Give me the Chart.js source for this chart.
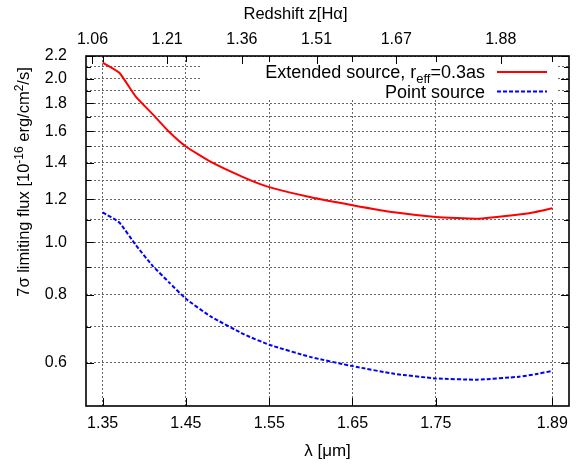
<!DOCTYPE html>
<html>
<head>
<meta charset="utf-8">
<script src="https://cdn.jsdelivr.net/npm/chart.js@4"></script>
<style>
  html, body { margin: 0; padding: 0; background: #fff; }
  #wrap { width: 578px; height: 465px; }
</style>
</head>
<body>
<div id="wrap"><canvas id="grafico" width="578" height="465"></canvas></div>
<script>
// wavelength in micron
const lambda = [1.35, 1.37, 1.39, 1.41, 1.43, 1.45, 1.48, 1.52, 1.55, 1.60, 1.65, 1.70, 1.75, 1.80, 1.85, 1.87, 1.89];
// 7 sigma limiting flux, 1e-16 erg/cm2/s
const extendedSource = [2.14, 2.05, 1.85, 1.72, 1.595, 1.50, 1.405, 1.315, 1.263, 1.21, 1.17, 1.135, 1.113, 1.105, 1.125, 1.137, 1.155];
const pointSource = [1.135, 1.087, 0.987, 0.905, 0.843, 0.787, 0.73, 0.677, 0.648, 0.615, 0.592, 0.573, 0.562, 0.559, 0.566, 0.572, 0.58];

const xTicks = [1.35, 1.45, 1.55, 1.65, 1.75, 1.89];
const zTicks = [1.06, 1.21, 1.36, 1.51, 1.67, 1.88];
const yGrid = [0.6, 0.7, 0.8, 0.9, 1.0, 1.1, 1.2, 1.3, 1.4, 1.5, 1.6, 1.7, 1.8, 1.9, 2.0, 2.1, 2.2];
const yLabels = [0.6, 0.8, 1.0, 1.2, 1.4, 1.6, 1.8, 2.0, 2.2];

const FONT = "'Liberation Sans', Arial, Helvetica, sans-serif";
const gridCor = "#666";

function ehLabel(v) {
  return yLabels.some((l) => Math.abs(l - v) < 1e-6);
}

// draws text pieces with super/subscripts, starting at x, baseline y
function textoComposto(ctx, partes, x, y, tam) {
  let px = x;
  partes.forEach((p) => {
    ctx.font = (p.s ? Math.round(tam * 0.72) : tam) + "px " + FONT;
    ctx.fillText(p.t, px, y + (p.s || 0));
    px += ctx.measureText(p.t).width;
  });
  return px;
}
function larguraComposto(ctx, partes, tam) {
  let w = 0;
  partes.forEach((p) => {
    ctx.font = (p.s ? Math.round(tam * 0.72) : tam) + "px " + FONT;
    w += ctx.measureText(p.t).width;
  });
  return w;
}

const molduraPlugin = {
  id: "moldura",
  beforeDatasetsDraw(chart) {
    const ctx = chart.ctx;
    // key box covers the grid
    ctx.save();
    ctx.fillStyle = "#fff";
    ctx.fillRect(200, chart.chartArea.top + 1, 357, 42);
    ctx.restore();
  },
  afterDraw(chart) {
    const ctx = chart.ctx;
    const a = chart.chartArea;
    const ys = chart.scales.y;
    const xs = chart.scales.x;
    const zs = chart.scales.x2;
    ctx.save();
    ctx.strokeStyle = "#000";
    ctx.lineWidth = 1;
    ctx.beginPath();
    yGrid.forEach((v) => {
      const py = Math.round(ys.getPixelForValue(v)) + 0.5;
      const len = ehLabel(v) ? 8 : 5;
      ctx.moveTo(a.left, py); ctx.lineTo(a.left + len, py);
      ctx.moveTo(a.right, py); ctx.lineTo(a.right - len, py);
    });
    xTicks.forEach((v) => {
      const px = Math.round(xs.getPixelForValue(v)) + 0.5;
      ctx.moveTo(px, a.bottom); ctx.lineTo(px, a.bottom - 8);
      ctx.moveTo(px, a.top); ctx.lineTo(px, a.top + 6);
    });
    zTicks.forEach((v) => {
      const px = Math.round(zs.getPixelForValue(v)) + 0.5;
      ctx.moveTo(px, a.top); ctx.lineTo(px, a.top + 8);
    });
    ctx.stroke();

    // frame
    ctx.lineWidth = 1.6;
    ctx.strokeRect(a.left, a.top, a.right - a.left, a.bottom - a.top);

    // top title
    ctx.fillStyle = "#000";
    ctx.textBaseline = "alphabetic";
    const tt = [{ t: "Redshift z[Hα]" }];
    textoComposto(ctx, tt, 295.5 - larguraComposto(ctx, tt, 16.5) / 2, 19, 16.5);

    // key
    const k1 = [{ t: "Extended source, r" }, { t: "eff", s: 5 }, { t: "=0.3as" }];
    textoComposto(ctx, k1, 485 - larguraComposto(ctx, k1, 18), 78, 18);
    const k2 = [{ t: "Point source" }];
    textoComposto(ctx, k2, 485 - larguraComposto(ctx, k2, 18), 98, 18);
    ctx.lineWidth = 2;
    ctx.strokeStyle = "rgb(255,0,0)";
    ctx.beginPath(); ctx.moveTo(497, 72); ctx.lineTo(547, 72); ctx.stroke();
    ctx.strokeStyle = "rgb(0,0,255)";
    ctx.setLineDash([4, 2]);
    ctx.beginPath(); ctx.moveTo(497, 91.5); ctx.lineTo(547, 91.5); ctx.stroke();
    ctx.setLineDash([]);

    // y title
    const t = [
      { t: "7σ limiting flux [10" }, { t: "-16", s: -6 },
      { t: " erg/cm" }, { t: "2", s: -6 }, { t: "/s]" },
    ];
    ctx.translate(29, 182);
    ctx.rotate(-Math.PI / 2);
    textoComposto(ctx, t, -larguraComposto(ctx, t, 16.5) / 2, 0, 16.5);
    ctx.restore();
  },
};

const grafico = document.getElementById("grafico");

new Chart(grafico, {
  type: "line",
  data: {
    datasets: [
      {
        label: "Extended source, reff=0.3as",
        data: lambda.map((l, i) => ({ x: l, y: extendedSource[i] })),
        borderColor: "rgb(255,0,0)",
        borderWidth: 2,
        pointRadius: 0,
        tension: 0.15,
      },
      {
        label: "Point source",
        data: lambda.map((l, i) => ({ x: l, y: pointSource[i] })),
        borderColor: "rgb(0,0,255)",
        borderWidth: 2,
        borderDash: [4, 2],
        pointRadius: 0,
        tension: 0.15,
      },
    ],
  },
  plugins: [molduraPlugin],
  options: {
    responsive: false,
    animation: false,
    layout: { padding: { right: 9, left: 0, top: 0, bottom: 0 } },
    plugins: { legend: { display: false }, tooltip: { enabled: false } },
    scales: {
      x: {
        type: "linear",
        position: "bottom",
        min: 1.33,
        max: 1.91,
        afterBuildTicks: (s) => { s.ticks = xTicks.map((v) => ({ value: v })); },
        afterFit: (s) => { s.height = 59; },
        ticks: {
          autoSkip: false,
          maxRotation: 0,
          padding: 8,
          color: "#000",
          font: { family: FONT, size: 16 },
          callback: (v) => v.toFixed(2),
        },
        grid: { drawTicks: false, color: gridCor, lineWidth: 1 },
        border: { display: false, dash: [2, 2] },
        title: {
          display: true,
          text: "λ [μm]",
          color: "#000",
          font: { family: FONT, size: 17 },
          padding: { top: 0, bottom: 3 },
        },
      },
      x2: {
        type: "linear",
        position: "top",
        min: 1.047,
        max: 2.017,
        afterBuildTicks: (s) => { s.ticks = zTicks.map((v) => ({ value: v })); },
        afterFit: (s) => { s.height = 56; },
        ticks: {
          autoSkip: false,
          maxRotation: 0,
          padding: 7,
          color: "#000",
          font: { family: FONT, size: 16 },
          callback: (v) => v.toFixed(2),
        },
        grid: { display: false, drawTicks: false },
        border: { display: false },
      },
      y: {
        type: "logarithmic",
        position: "left",
        min: 0.5,
        max: 2.2,
        afterBuildTicks: (s) => { s.ticks = yGrid.map((v) => ({ value: v })); },
        afterFit: (s) => { s.width = 86; },
        ticks: {
          autoSkip: false,
          padding: 19,
          color: "#000",
          font: { family: FONT, size: 16 },
          callback: (v) => (ehLabel(v) ? v.toFixed(1) : ""),
        },
        grid: { drawTicks: false, color: gridCor, lineWidth: 1 },
        border: { display: false, dash: [2, 2] },
      },
    },
  },
});
</script>
</body>
</html>
